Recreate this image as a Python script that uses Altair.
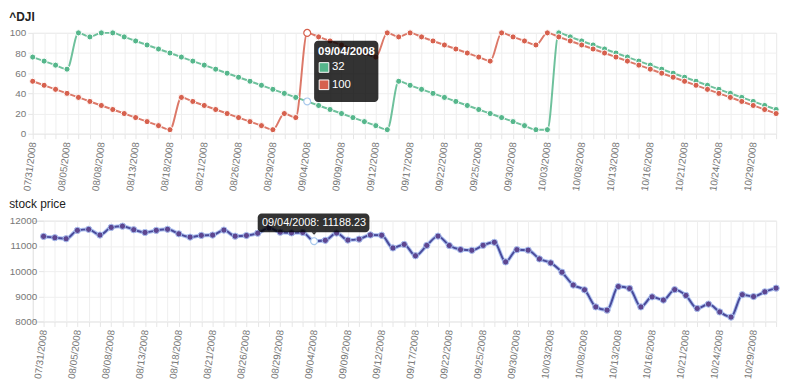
import json
import altair as alt
import pandas as pd

FONT = "Liberation Sans"

dates = [
    "07/31/2008", "08/01/2008", "08/04/2008", "08/05/2008", "08/06/2008", "08/07/2008",
    "08/08/2008", "08/11/2008", "08/12/2008", "08/13/2008", "08/14/2008", "08/15/2008",
    "08/18/2008", "08/19/2008", "08/20/2008", "08/21/2008", "08/22/2008", "08/25/2008",
    "08/26/2008", "08/27/2008", "08/28/2008", "08/29/2008", "09/02/2008", "09/03/2008",
    "09/04/2008", "09/05/2008", "09/08/2008", "09/09/2008", "09/10/2008", "09/11/2008",
    "09/12/2008", "09/15/2008", "09/16/2008", "09/17/2008", "09/18/2008", "09/19/2008",
    "09/22/2008", "09/23/2008", "09/24/2008", "09/25/2008", "09/26/2008", "09/29/2008",
    "09/30/2008", "10/01/2008", "10/02/2008", "10/03/2008", "10/06/2008", "10/07/2008",
    "10/08/2008", "10/09/2008", "10/10/2008", "10/13/2008", "10/14/2008", "10/15/2008",
    "10/16/2008", "10/17/2008", "10/20/2008", "10/21/2008", "10/22/2008", "10/23/2008",
    "10/24/2008", "10/27/2008", "10/28/2008", "10/29/2008", "10/30/2008", "10/31/2008",
]

green_values = [
    76, 72, 68, 64, 100, 96, 100, 100, 96, 92, 88, 84, 80, 76, 72, 68, 64, 60, 56, 52,
    48, 44, 40, 36, 32, 28, 24, 20, 16, 12, 8, 4, 52, 48, 44, 40, 36, 32, 28, 24,
    20, 16, 12, 8, 4, 4, 100, 96, 92, 88, 84, 80, 76, 72, 68, 64, 60, 56, 52, 48,
    44, 40, 36, 32, 28, 24,
]

red_values = [
    52, 48, 44, 40, 36, 32, 28, 24, 20, 16, 12, 8, 4, 36, 32, 28, 24, 20, 16, 12,
    8, 4, 20, 16, 100, 96, 92, 88, 84, 80, 76, 100, 96, 100, 96, 92, 88, 84, 80, 76,
    72, 100, 96, 92, 88, 100, 96, 92, 88, 84, 80, 76, 72, 68, 64, 60, 56, 52, 48, 44,
    40, 36, 32, 28, 24, 20,
]

stock_price = [
    11378.02, 11326.32, 11284.15, 11615.77, 11656.07, 11431.43, 11734.32, 11782.35,
    11642.47, 11532.96, 11615.93, 11659.90, 11479.39, 11348.55, 11417.43, 11430.21,
    11628.06, 11386.25, 11412.87, 11502.51, 11715.18, 11543.55, 11516.92, 11532.88,
    11188.23, 11220.96, 11510.74, 11230.73, 11268.92, 11433.71, 11421.99, 10917.51,
    11059.02, 10609.66, 11019.69, 11388.44, 11015.69, 10854.17, 10825.17, 11022.06,
    11143.13, 10365.45, 10850.66, 10831.07, 10482.85, 10325.38, 9955.50, 9447.11,
    9258.10, 8579.19, 8451.19, 9387.61, 9310.99, 8577.91, 8979.26, 8852.22,
    9265.43, 9033.66, 8519.21, 8691.25, 8378.95, 8175.77, 9065.12, 8990.96,
    9180.69, 9325.01,
]

series_names = ["green", "red"]
series_colors = ["#55b68b", "#d6604d"]
hover_date = "09/04/2008"

top_ticks = [0, 20, 40, 60, 80, 100]
bottom_ticks = [8000, 9000, 10000, 11000, 12000]

W = 752
H = 102

n = len(dates)
idx = list(range(n))
hover_i = dates.index(hover_date)

label_expr = "datum.value % 3 == 0 ? " + json.dumps(dates) + "[datum.value] : ''"


def x_axis():
    return alt.Axis(
        title=None, values=idx, labelExpr=label_expr, labelAngle=-83,
        labelFont=FONT, labelFontSize=10, labelColor="#777", labelOverlap=False,
        labelPadding=3, labelFlush=False, grid=True, gridColor="#efefef",
        tickColor="#e6e6e6", tickSize=5, domain=False,
    )


def y_axis(values, fmt, offset=0):
    return alt.Axis(
        title=None, values=values, format=fmt, labelFont=FONT, labelFontSize=10,
        labelColor="#777", labelPadding=2, grid=True, gridColor="#efefef",
        tickColor="#e6e6e6", tickSize=5, domain=False, offset=offset,
    )


# ---------------- top chart ----------------
top_df = pd.DataFrame({
    "i": idx * 2,
    "date": dates * 2,
    "series": [series_names[0]] * n + [series_names[1]] * n,
    "value": green_values + red_values,
})

xt = alt.X("i:Q", scale=alt.Scale(domain=[0, n - 1], nice=False, zero=False), axis=x_axis())
yt = alt.Y("value:Q", scale=alt.Scale(domain=[0, 100], nice=False), axis=y_axis(top_ticks, "d"))
ct = alt.Color("series:N", scale=alt.Scale(domain=series_names, range=series_colors), legend=None)

top_lines = alt.Chart(top_df).mark_line(interpolate="monotone", strokeWidth=2, opacity=0.85).encode(
    x=xt, y=yt, color=ct, detail="series:N")
top_points = alt.Chart(top_df).mark_circle(size=38, opacity=1, stroke="white", strokeWidth=1).encode(
    x=xt, y=yt, color=ct)
top_hover = alt.Chart(top_df).transform_filter(alt.datum.date == hover_date).mark_circle(
    size=48, opacity=1, fill="white", strokeWidth=1.2).encode(
    x=xt, y=yt,
    stroke=alt.Stroke("series:N", scale=alt.Scale(domain=series_names, range=["#a9c9ec", "#d6604d"]), legend=None))

tip_top_df = pd.DataFrame({
    "i": [hover_i],
    "date": [hover_date],
    "value": [max(green_values[hover_i], red_values[hover_i])],
    "g": [str(green_values[hover_i])],
    "r": [str(red_values[hover_i])],
})
tip_base = alt.Chart(tip_top_df)
tip_box = tip_base.mark_rect(xOffset=7, x2Offset=72, yOffset=8, y2Offset=70, cornerRadius=4,
                             color="#000", opacity=0.8).encode(x=xt, x2="i:Q", y=yt, y2="value:Q")
tip_title = tip_base.mark_text(align="left", baseline="middle", dx=11, dy=19.5, font=FONT, fontSize=11.5,
                               fontWeight="bold", color="white").encode(x=xt, y=yt, text="date:N")
tip_sq_g = tip_base.mark_square(size=95, xOffset=17, yOffset=35, opacity=1, color=series_colors[0],
                                stroke="white", strokeWidth=1).encode(x=xt, y=yt)
tip_sq_r = tip_base.mark_square(size=95, xOffset=17, yOffset=52.5, opacity=1, color=series_colors[1],
                                stroke="white", strokeWidth=1).encode(x=xt, y=yt)
tip_g = tip_base.mark_text(align="left", baseline="middle", dx=25, dy=35, font=FONT, fontSize=11.5,
                           color="white").encode(x=xt, y=yt, text="g:N")
tip_r = tip_base.mark_text(align="left", baseline="middle", dx=25, dy=52.5, font=FONT, fontSize=11.5,
                           color="white").encode(x=xt, y=yt, text="r:N")

top = alt.layer(top_lines, top_points, top_hover, tip_box, tip_title, tip_sq_g, tip_sq_r, tip_g, tip_r).properties(
    width=W, height=H,
    title=alt.TitleParams("^DJI", anchor="start", frame="bounds", font=FONT, fontSize=12,
                          fontWeight="bold", color="#222", offset=3),
)

# ---------------- bottom chart ----------------
SHIFT = 11
bot_df = pd.DataFrame({"i": idx, "date": dates, "price": stock_price})
xb = alt.X("i:Q", scale=alt.Scale(domain=[0, n - 1], nice=False, zero=False, range=[SHIFT, W]), axis=x_axis())
yb = alt.Y("price:Q", scale=alt.Scale(domain=[8000, 12000], nice=False, zero=False),
           axis=y_axis(bottom_ticks, "d", offset=-SHIFT))

bot_halo = alt.Chart(bot_df).mark_line(interpolate="monotone", strokeWidth=4, color="#b3c6f2").encode(x=xb, y=yb)
bot_line = alt.Chart(bot_df).mark_line(interpolate="monotone", strokeWidth=2, color="#4a4b9b").encode(x=xb, y=yb)
bot_points = alt.Chart(bot_df).mark_circle(size=40, opacity=1, color="#5d4690", stroke="#a9bff0",
                                           strokeWidth=1).encode(x=xb, y=yb)
bot_hover = alt.Chart(bot_df).transform_filter(alt.datum.date == hover_date).mark_circle(
    size=48, opacity=1, fill="white", stroke="#a9c9ec", strokeWidth=1.2).encode(x=xb, y=yb)

tip_bot_df = pd.DataFrame({
    "i": [hover_i],
    "price": [stock_price[hover_i]],
    "label": [f"{hover_date}: {stock_price[hover_i]:.2f}"],
})
tb = alt.Chart(tip_bot_df)
tipb_box = tb.mark_rect(xOffset=-57, x2Offset=56, yOffset=-28, y2Offset=-9, cornerRadius=4,
                        color="#000", opacity=0.8).encode(x=xb, x2="i:Q", y=yb, y2="price:Q")
tipb_arrow = tb.mark_point(shape="M-1,0L1,0L0,1Z", size=25, filled=True, opacity=0.8, color="#000",
                           yOffset=-9).encode(x=xb, y=yb)
tipb_text = tb.mark_text(align="center", baseline="middle", dx=0, dy=-18.5, font=FONT, fontSize=11,
                         color="white").encode(x=xb, y=yb, text="label:N")

bottom = alt.layer(bot_halo, bot_line, bot_points, bot_hover, tipb_box, tipb_arrow, tipb_text).properties(
    width=W, height=H,
    title=alt.TitleParams("stock price", anchor="start", frame="bounds", font=FONT, fontSize=12,
                          fontWeight="normal", color="#222", offset=3),
)

chart = alt.vconcat(top, bottom, spacing=5).properties(padding=0).configure_view(stroke=None).configure(
    background="white")

chart.save("out.html", embed_options={"renderer": "svg", "actions": False})
